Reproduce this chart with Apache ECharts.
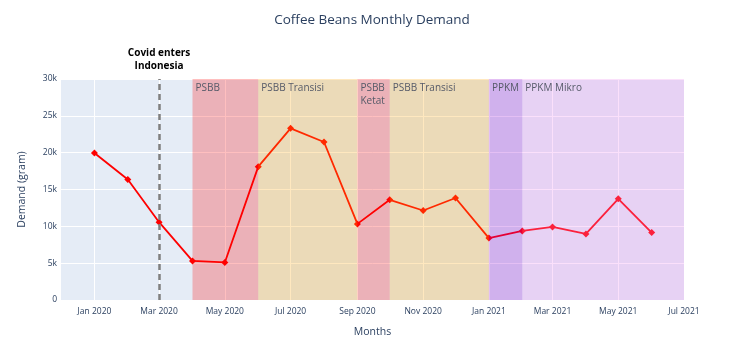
<!DOCTYPE html>
<html><head><meta charset="utf-8">
<script src="https://cdn.jsdelivr.net/npm/echarts@6/dist/echarts.min.js"></script>
<style>html,body{margin:0;padding:0;background:#fff}#c{width:744px;height:361px}</style>
</head><body><div id="c"></div>
<script>
const months = ['2020-01-01','2020-02-01','2020-03-01','2020-04-01','2020-05-01','2020-06-01','2020-07-01','2020-08-01','2020-09-01','2020-10-01','2020-11-01','2020-12-01','2021-01-01','2021-02-01','2021-03-01','2021-04-01','2021-05-01','2021-06-01'];
const demand = [19950,16350,10560,5300,5100,18100,23300,21450,10330,13600,12150,13850,8400,9380,9920,8970,13730,9150];
const tickDates = ['2020-01-01','2020-03-01','2020-05-01','2020-07-01','2020-09-01','2020-11-01','2021-01-01','2021-03-01','2021-05-01','2021-07-01'];
const periodNames = ['PSBB','PSBB Transisi','PSBB\nKetat','PSBB Transisi','PPKM','PPKM Mikro'];
const periodStart = ['2020-04-01','2020-06-01','2020-09-01','2020-10-01','2021-01-01','2021-02-01'];
const periodEnd = ['2020-06-01','2020-09-01','2020-10-01','2021-01-01','2021-02-01','2021-07-01'];
const periodColors = ['rgba(255,0,0,0.25)','rgba(255,165,0,0.25)','rgba(255,0,0,0.25)','rgba(255,165,0,0.25)','rgba(148,0,211,0.25)','rgba(238,130,238,0.25)'];
const covidDate = '2020-03-01';
const covidLabel = 'Covid enters\nIndonesia';

const ts = s => new Date(s + 'T00:00:00').getTime();
const font = '"Open Sans", sans-serif';
const chart = echarts.init(document.getElementById('c'));
chart.setOption({
  animation: false,
  textStyle: {fontFamily: font},
  title: {text: 'Coffee Beans Monthly Demand', left: 'center', top: 8,
    textStyle: {fontFamily: font, fontSize: 13.5, fontWeight: 'normal', color: '#2a3f5f'}},
  grid: {left: 61, right: 60, top: 79, bottom: 61, show: true, backgroundColor: '#E5ECF6', borderWidth: 0},
  xAxis: {
    type: 'time', min: ts('2019-12-01'), max: ts('2021-07-01'),
    name: 'Months', nameLocation: 'middle', nameGap: 27,
    nameTextStyle: {fontSize: 10.5, color: '#2a3f5f'},
    axisLine: {show: false}, axisTick: {show: false, customValues: tickDates.map(ts)},
    axisLabel: {customValues: tickDates.map(ts), formatter: '{MMM} {yyyy}', fontSize: 8.5, color: '#2a3f5f', margin: 7, hideOverlap: false},
    splitLine: {show: true, lineStyle: {color: '#ffffff', width: 1}}
  },
  yAxis: {
    type: 'value', min: 0, max: 30000, interval: 5000,
    name: 'Demand (gram)', nameLocation: 'middle', nameGap: 33, nameRotate: 90,
    nameTextStyle: {fontSize: 10.5, color: '#2a3f5f'},
    axisLine: {show: false}, axisTick: {show: false},
    axisLabel: {fontSize: 8.5, color: '#2a3f5f', margin: 4, formatter: v => v === 0 ? '0' : (v/1000) + 'k'},
    splitLine: {lineStyle: {color: '#ffffff', width: 1}}
  },
  series: [
    {
      type: 'line', z: 2,
      data: months.map((m, i) => [ts(m), demand[i]]),
      lineStyle: {color: '#ff0000', width: 1.8},
      itemStyle: {color: '#ff0000'},
      symbol: 'diamond', symbolSize: 7
    },
    {
      type: 'line', z: 5, data: [], silent: true,
      markArea: {
        silent: true, z: 10,
        data: periodNames.map((n, i) => [
          {xAxis: ts(periodStart[i]), itemStyle: {color: periodColors[i]},
           label: {show: true, formatter: n, position: 'insideTopLeft', distance: 3, color: '#555a68', fontSize: 10, lineHeight: 13, fontFamily: font}},
          {xAxis: ts(periodEnd[i])}
        ])
      },
      markLine: {
        silent: true, symbol: ['none','none'], z: 11,
        lineStyle: {color: '#7f7f7f', type: [6, 4], width: 2.5},
        label: {show: true, position: 'end', formatter: covidLabel, color: '#000', fontWeight: 'bold', fontSize: 10, lineHeight: 13, distance: 6, fontFamily: font},
        data: [{xAxis: ts(covidDate)}]
      }
    }
  ]
});
</script></body></html>
